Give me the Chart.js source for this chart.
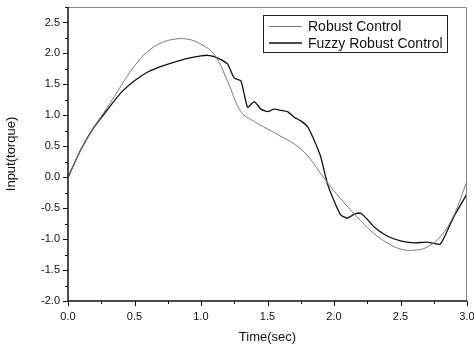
<!DOCTYPE html>
<html>
<head>
<meta charset="utf-8">
<script src="https://cdn.jsdelivr.net/npm/chart.js@4.4.1/dist/chart.umd.min.js"></script>
<style>
  html, body { margin: 0; padding: 0; background: #fff; }
  #wrap { width: 474px; height: 349px; position: relative; }
</style>
</head>
<body>
<div id="wrap"><canvas id="c"></canvas></div>
<script>
// Input torque vs time — robust vs fuzzy robust control

const SERIES_NAMES = ["Robust Control", "Fuzzy Robust Control"];

const robustTime = [0.0,0.1,0.2,0.3,0.4,0.5,0.6,0.7,0.8,0.9,1.0,1.1,1.2,1.3,1.4,1.5,
  1.6,1.7,1.8,1.9,2.0,2.1,2.2,2.3,2.4,2.5,2.6,2.7,2.8,2.9,3.0];
const robustVals = [0.00,0.46,0.82,1.14,1.48,1.80,2.03,2.17,2.23,2.23,2.15,1.98,1.55,1.06,0.90,0.78,
  0.66,0.54,0.35,0.06,-0.22,-0.47,-0.70,-0.91,-1.06,-1.16,-1.18,-1.13,-0.96,-0.62,-0.06];

const fuzzyTime = [0.0,0.1,0.2,0.3,0.4,0.5,0.6,0.7,0.8,0.9,1.0,1.05,1.1,1.15,1.2,1.25,1.3,1.35,
  1.4,1.45,1.5,1.55,1.6,1.65,1.7,1.75,1.8,1.85,1.9,1.95,2.0,2.05,2.1,2.15,2.2,2.25,2.3,2.4,
  2.5,2.6,2.7,2.8,2.9,3.0];
const fuzzyVals = [0.00,0.46,0.82,1.10,1.37,1.56,1.70,1.79,1.86,1.92,1.96,1.97,1.95,1.90,1.83,1.60,1.56,1.13,
  1.22,1.10,1.06,1.10,1.08,1.06,0.97,0.91,0.82,0.60,0.33,-0.10,-0.38,-0.61,-0.66,-0.60,-0.58,-0.68,-0.80,-0.95,
  -1.03,-1.06,-1.05,-1.08,-0.64,-0.27];

const X_MIN = 0, X_MAX = 3, Y_MIN = -2, Y_MAX = 2.75;
const FONT = "Arial, 'Liberation Sans', sans-serif";

function pts(xs, ys) { return xs.map((x, i) => ({ x, y: ys[i] })); }

// axes frame + major/minor ticks drawn outward
const framePlugin = {
  id: "frame",
  afterDraw(chart) {
    const { ctx, chartArea: a, scales: { x, y } } = chart;
    ctx.save();
    ctx.strokeStyle = "#8a8a8a"; ctx.lineWidth = 1;
    ctx.beginPath();
    ctx.moveTo(a.left, a.top + 0.5); ctx.lineTo(a.right - 0.5, a.top + 0.5); ctx.lineTo(a.right - 0.5, a.bottom);
    ctx.stroke();
    ctx.strokeStyle = "#111"; ctx.lineWidth = 1.5;
    ctx.beginPath();
    ctx.moveTo(a.left, a.top); ctx.lineTo(a.left, a.bottom); ctx.lineTo(a.right, a.bottom);
    ctx.stroke();
    ctx.lineWidth = 1;
    for (let v = X_MIN; v <= X_MAX + 1e-9; v += 0.25) {
      const px = Math.round(x.getPixelForValue(v)) + 0.5;
      const len = Math.abs(v * 2 - Math.round(v * 2)) < 1e-6 ? 5 : 3;
      ctx.beginPath(); ctx.moveTo(px, a.bottom); ctx.lineTo(px, a.bottom + len); ctx.stroke();
    }
    for (let v = Y_MIN; v <= Y_MAX + 1e-9; v += 0.25) {
      const py = Math.round(y.getPixelForValue(v)) + 0.5;
      const len = Math.abs(v * 2 - Math.round(v * 2)) < 1e-6 ? 5 : 3;
      ctx.beginPath(); ctx.moveTo(a.left, py); ctx.lineTo(a.left - len, py); ctx.stroke();
    }
    ctx.restore();
  }
};

// boxed legend in the top right of the plot
const legendBox = {
  id: "legendBox",
  afterDraw(chart) {
    const { ctx } = chart;
    const left = 263, top = 15, w = 184, h = 37;
    ctx.save();
    ctx.fillStyle = "#fff"; ctx.fillRect(left, top, w, h);
    ctx.strokeStyle = "#222"; ctx.lineWidth = 1;
    ctx.strokeRect(left + 0.5, top + 0.5, w, h);
    ctx.font = "14px " + FONT; ctx.textBaseline = "middle"; ctx.fillStyle = "#111";
    chart.data.datasets.forEach((ds, i) => {
      const cy = top + 11.5 + i * 16.5;
      ctx.strokeStyle = ds.borderColor; ctx.lineWidth = ds.borderWidth;
      ctx.beginPath(); ctx.moveTo(left + 6, cy); ctx.lineTo(left + 39, cy); ctx.stroke();
      ctx.fillText(ds.label, left + 45, cy + 1);
    });
    ctx.restore();
  }
};

new Chart(document.getElementById("c"), {
  type: "line",
  data: {
    datasets: [
      { label: SERIES_NAMES[0], data: pts(robustTime, robustVals), borderColor: "#7a7a7a",
        borderWidth: 1, pointRadius: 0, tension: 0.4, fill: false },
      { label: SERIES_NAMES[1], data: pts(fuzzyTime, fuzzyVals), borderColor: "#111",
        borderWidth: 1.3, pointRadius: 0, tension: 0.15, fill: false },
    ]
  },
  options: {
    responsive: true, maintainAspectRatio: false, animation: false,
    layout: { padding: { top: 7, right: 7, left: 0, bottom: 0 } },
    plugins: { legend: { display: false }, tooltip: { enabled: false } },
    scales: {
      x: {
        type: "linear", min: X_MIN, max: X_MAX,
        afterFit: s => { s.height = 48; s.paddingLeft = 0; s.paddingRight = 0; },
        grid: { display: false, drawTicks: false }, border: { display: false },
        ticks: { stepSize: 0.5, padding: 9, color: "#111", font: { family: FONT, size: 11 },
                 callback: v => v.toFixed(1) },
        title: { display: true, text: "Time(sec)", color: "#111", font: { family: FONT, size: 13 },
                 padding: { top: 4 } }
      },
      y: {
        min: Y_MIN, max: Y_MAX,
        afterFit: s => { s.width = 68; s.paddingTop = 0; s.paddingBottom = 0; },
        grid: { display: false, drawTicks: false }, border: { display: false },
        afterBuildTicks: s => { s.ticks = s.ticks.filter(t => Math.abs(t.value * 2 - Math.round(t.value * 2)) < 1e-6); },
        ticks: { stepSize: 0.5, padding: 8, color: "#111", font: { family: FONT, size: 11 },
                 callback: v => v.toFixed(1) },
        title: { display: true, text: "Input(torque)", color: "#111", font: { family: FONT, size: 13 },
                 padding: { bottom: 2 } }
      }
    }
  },
  plugins: [framePlugin, legendBox]
});
</script>
</body>
</html>
